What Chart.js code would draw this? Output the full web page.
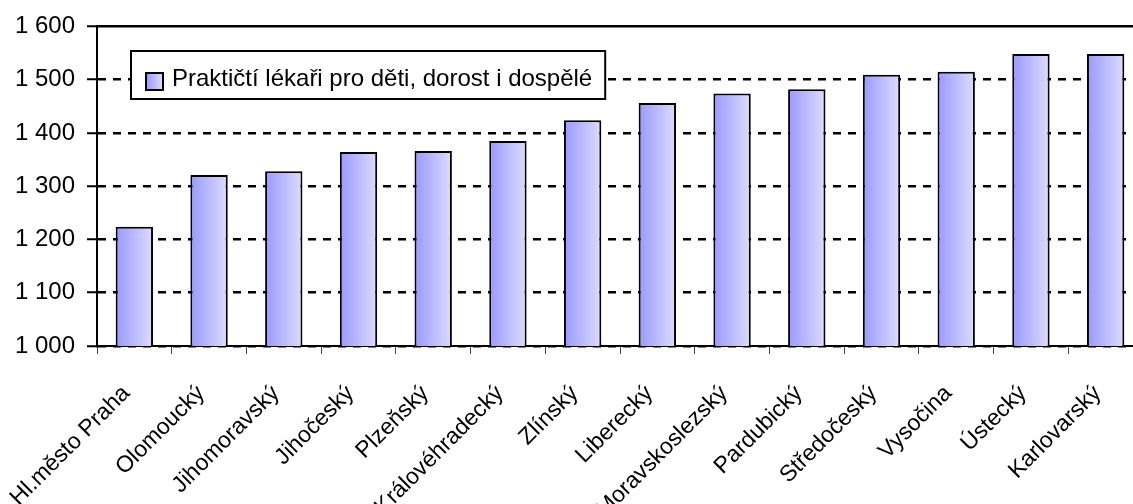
<!DOCTYPE html>
<html>
<head>
<meta charset="utf-8">
<script src="https://cdn.jsdelivr.net/npm/chart.js@4/dist/chart.umd.min.js"></script>
<style>
  html, body { margin: 0; padding: 0; background: #fff; overflow: hidden; }
  #chart { display: block; }
</style>
</head>
<body>
<canvas id="chart" width="1145" height="504"></canvas>
<script>
const regions = ['Hl.město Praha', 'Olomoucký', 'Jihomoravský', 'Jihočeský', 'Plzeňský', 'Královéhradecký',
    'Zlínský', 'Liberecký', 'Moravskoslezský', 'Pardubický', 'Středočeský', 'Vysočina', 'Ústecký', 'Karlovarský'];
const patients = [1224, 1321, 1328, 1364, 1366, 1385, 1424, 1456, 1474, 1482, 1509, 1515, 1548, 1548];
const seriesName = 'Praktičtí lékaři pro děti, dorost i dospělé';
const yMin = 1000;
const yMax = 1600;
const yStep = 100;

const FONT = '"Liberation Sans", Arial, sans-serif';

function barGradient(ctx, left, right) {
    const g = ctx.createLinearGradient(left, 0, right, 0);
    g.addColorStop(0, '#9999ff');
    g.addColorStop(1, '#dcdcff');
    return g;
}

function barFill(context) {
    const chart = context.chart;
    const xs = chart.scales.x;
    if (!xs || !chart.chartArea || !xs.ticks.length) return '#b0b0ff';
    const cx = xs.getPixelForValue(context.dataIndex);
    const half = xs.width / xs.ticks.length / 4;
    return barGradient(chart.ctx, cx - half, cx + half);
}

// legend box sitting inside the plot, like the original
const boxLegend = {
    id: 'boxLegend',
    afterDraw(chart) {
        const ctx = chart.ctx;
        const label = chart.data.datasets[0].label;
        ctx.save();
        ctx.font = '24px ' + FONT;
        const tw = ctx.measureText(label).width;
        const x = 131, y = 51, h = 48;
        const w = tw + 54;
        ctx.fillStyle = '#fff';
        ctx.fillRect(x, y, w, h);
        ctx.lineWidth = 2;
        ctx.strokeStyle = '#000';
        ctx.strokeRect(x, y, w, h);
        ctx.fillStyle = barGradient(ctx, x + 15, x + 32);
        ctx.fillRect(x + 15, y + 22, 17, 17);
        ctx.strokeRect(x + 15, y + 22, 17, 17);
        ctx.fillStyle = '#000';
        ctx.textBaseline = 'alphabetic';
        ctx.fillText(label, x + 41, y + 35);
        ctx.restore();
    }
};

new Chart(document.getElementById('chart'), {
    type: 'bar',
    data: {
        labels: regions,
        datasets: [{
            label: seriesName,
            data: patients,
            backgroundColor: barFill,
            borderColor: '#000',
            borderWidth: 2,
            borderSkipped: false,
            barPercentage: 0.5,
            categoryPercentage: 1.0
        }]
    },
    options: {
        responsive: false,
        animation: false,
        devicePixelRatio: 1,
        layout: {
            padding: { top: 25, right: 2, left: 0, bottom: 0 }
        },
        plugins: {
            legend: { display: false },
            tooltip: { enabled: false }
        },
        scales: {
            x: {
                afterFit(scale) {
                    scale.height = 158;
                    scale.paddingLeft = 0;
                    scale.paddingRight = 0;
                },
                grid: {
                    drawOnChartArea: false,
                    drawTicks: true,
                    tickLength: 8,
                    tickColor: '#444',
                    tickWidth: 1,
                    offset: true
                },
                border: { display: true, color: '#000', width: 2 },
                ticks: {
                    autoSkip: false,
                    maxRotation: 45,
                    minRotation: 45,
                    padding: 26,
                    labelOffset: -8,
                    color: '#000',
                    font: { family: FONT, size: 23 }
                }
            },
            y: {
                min: yMin,
                max: yMax,
                afterFit(scale) { scale.width = 97; },
                grid: {
                    color: '#000',
                    lineWidth: 2.5,
                    tickLength: 10,
                    tickBorderDash: [],
                    tickColor: '#000',
                    tickWidth: 2
                },
                border: {
                    display: true,
                    color: '#000',
                    width: 2,
                    dash: (c) => (c.tick && c.tick.value === yMax ? [] : [8, 7])
                },
                ticks: {
                    stepSize: yStep,
                    padding: 12,
                    color: '#000',
                    font: { family: FONT, size: 24 },
                    callback: (v) => String(v).replace(/\B(?=(\d{3})+(?!\d))/g, ' ')
                }
            }
        }
    },
    plugins: [boxLegend]
});
</script>
</body>
</html>
